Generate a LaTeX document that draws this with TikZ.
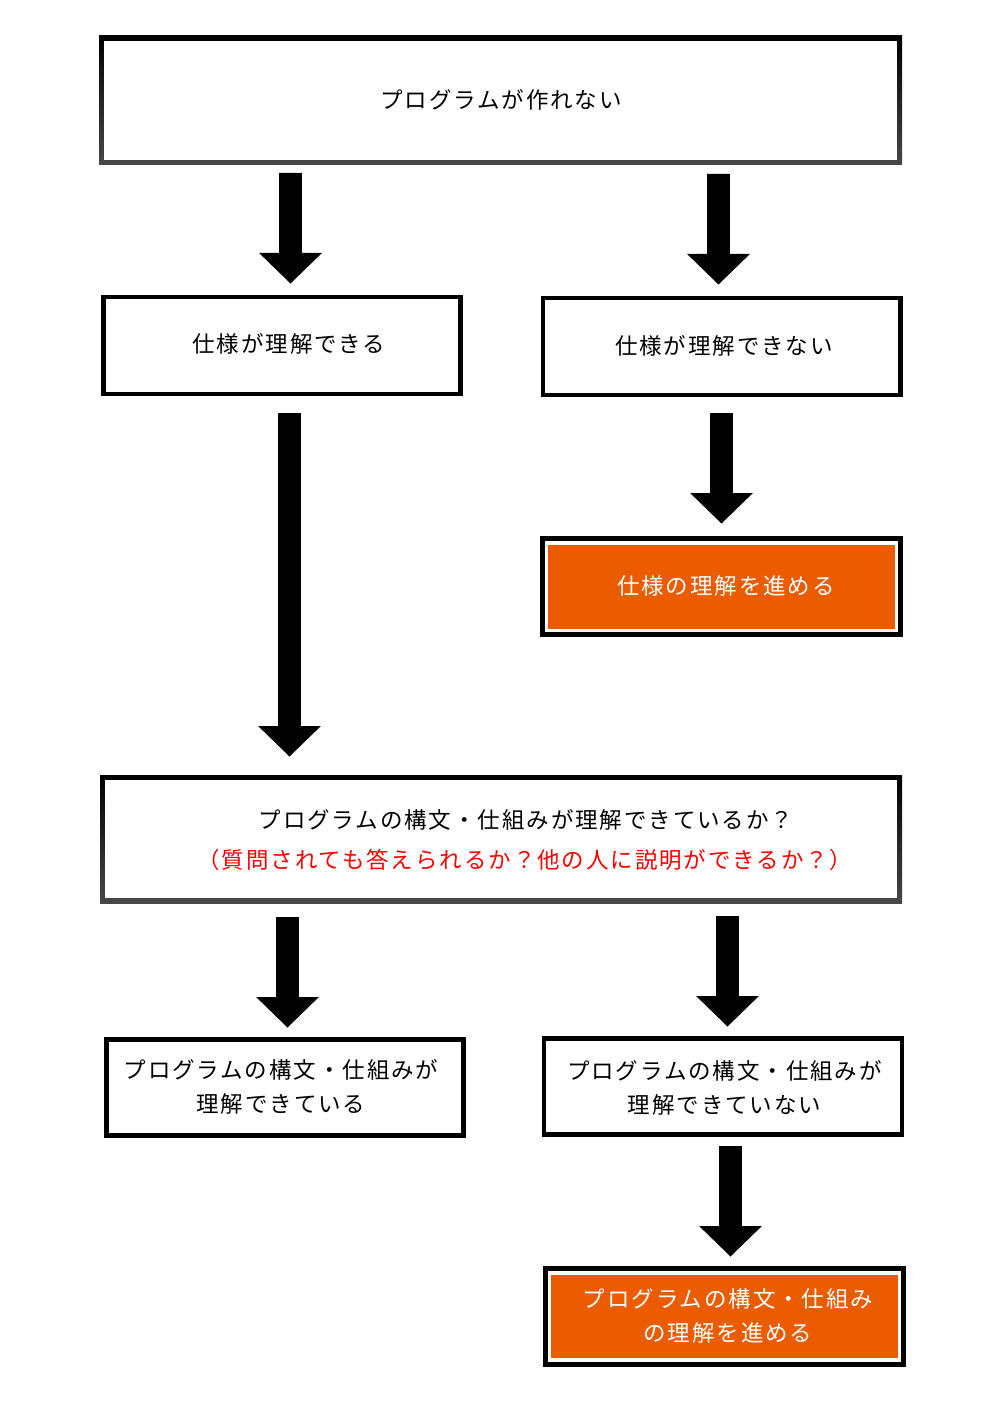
\documentclass[tikz,border=0pt]{standalone}
\usepackage{fontspec}
\setmainfont{Noto Sans CJK JP}
\definecolor{orng}{RGB}{235,92,0}
\definecolor{redtxt}{RGB}{255,0,0}
\newcommand\blockarrow[2]{%
  \path (#1) coordinate (ba-s) (#2) coordinate (ba-e);
  \fill[black] ($(ba-s)+(-11.4,0)$) -- ($(ba-s)+(11.4,0)$) -- ($(ba-e)+(11.4,-30.5)$)
    -- ($(ba-e)+(31.4,-30.5)$) -- (ba-e) -- ($(ba-e)+(-31.4,-30.5)$) -- ($(ba-e)+(-11.4,-30.5)$) -- cycle;}
\usetikzlibrary{calc}
\begin{document}
\begin{tikzpicture}[x=1pt,y=-1pt,
  box/.style={draw=black, line width=4.5pt, fill=white, inner sep=0pt, outer sep=0pt},
  obox/.style={draw=black, line width=5pt, fill=white, inner sep=0pt, outer sep=0pt},
  inner/.style={fill=white, draw=none, inner sep=0pt, outer sep=0pt},
  lbl/.style={font=\fontsize{22.5}{34}\selectfont\addfontfeature{LetterSpace=8.5}, align=center, inner sep=0pt},
  wlbl/.style={lbl, text=white},
  rlbl/.style={lbl, text=redtxt}]
\useasboundingbox (0,0) rectangle (1000,1420);
\fill[white] (0,0) rectangle (1000,1420);

% top box (gradient border)
\shade[top color=black, bottom color=black!72] (99,36) rectangle (902,165);
\node[inner, minimum width=793, minimum height=119] (top) at (500.5,100.5) {};
\node[lbl] (ttop) at (501,100) {プログラムが作れない};

% second row
\node[box, minimum width=357, minimum height=96.5] (can) at (282,345.5) {};
\node[lbl] (tcan) at (289,344) {仕様が理解できる};
\node[box, minimum width=357.5, minimum height=96.5] (cannot) at (721.5,346.5) {};
\node[lbl] (tcannot) at (724,346) {仕様が理解できない};

% orange box 1
\node[obox, minimum width=358, minimum height=96] (o1) at (721.5,586.5) {};
\fill[orng] (548,545) rectangle (895,629);
\node[wlbl] (to1) at (726,586) {仕様の理解を進める};

% middle box (gradient border)
\shade[top color=black, bottom color=black!72] (100,775) rectangle (902,903);
\node[inner, minimum width=792, minimum height=118] (mid) at (501,839) {};
\node[lbl] (tmid1) at (526,820) {プログラムの構文・仕組みが理解できているか？};
\node[rlbl] (tmid2) at (525,860) {（質問されても答えられるか？他の人に説明ができるか？）};

% bottom row
\node[box, minimum width=357, minimum height=96] (ok) at (285,1087.5) {};
\node[lbl] (tok) at (281,1087) {プログラムの構文・仕組みが\\理解できている};
\node[box, minimum width=358, minimum height=96] (ng) at (723,1086.5) {};
\node[lbl] (tng) at (724.5,1088) {プログラムの構文・仕組みが\\理解できていない};

% orange box 2
\node[obox, minimum width=358, minimum height=96] (o2) at (724.5,1316.5) {};
\fill[orng] (551,1275) rectangle (898,1358);
\node[wlbl] (to2) at (728,1316) {プログラムの構文・仕組み\\の理解を進める};

% arrows
\coordinate (a1s) at (290.5,173); \coordinate (a1e) at (290.5,283.5);
\coordinate (a2s) at (718.5,174); \coordinate (a2e) at (718.5,284.5);
\coordinate (a3s) at (721.5,413); \coordinate (a3e) at (721.5,523.5);
\coordinate (a4s) at (289.5,413); \coordinate (a4e) at (289.5,756.5);
\coordinate (a5s) at (287.5,917); \coordinate (a5e) at (287.5,1027.5);
\coordinate (a6s) at (727.5,916); \coordinate (a6e) at (727.5,1026.5);
\coordinate (a7s) at (730.5,1146); \coordinate (a7e) at (730.5,1256.5);
\blockarrow{a1s}{a1e}
\blockarrow{a2s}{a2e}
\blockarrow{a3s}{a3e}
\blockarrow{a4s}{a4e}
\blockarrow{a5s}{a5e}
\blockarrow{a6s}{a6e}
\blockarrow{a7s}{a7e}
\end{tikzpicture}
\end{document}
